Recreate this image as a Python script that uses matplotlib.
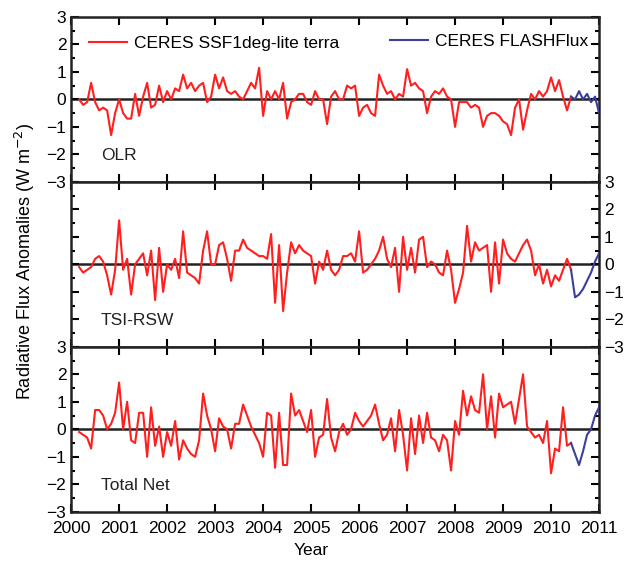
import numpy as np
import matplotlib
matplotlib.use('Agg')
import matplotlib.pyplot as plt
from matplotlib.ticker import MultipleLocator

plt.rcParams['font.family'] = ['Liberation Sans', 'DejaVu Sans']

# monthly anomalies (W m-2), CERES SSF1deg-lite terra, Mar 2000 - Jun 2010
olr = [
    0.0, -0.2, -0.1, 0.6, -0.1, -0.4, -0.3, -0.4, -1.3, -0.5,                  # 2000
    0.0, -0.5, -0.7, -0.7, 0.2, -0.6, 0.1, 0.6, -0.3, -0.2, 0.5, -0.1,        # 2001
    0.3, 0.0, 0.4, 0.3, 0.9, 0.4, 0.6, 0.3, 0.5, 0.6, -0.1, 0.1,              # 2002
    0.9, 0.4, 0.8, 0.3, 0.2, 0.3, 0.1, 0.0, 0.3, 0.6, 0.4, 1.15,              # 2003
    -0.6, 0.3, 0.0, 0.3, 0.0, 0.6, -0.7, -0.1, 0.0, 0.2, 0.2, -0.1,           # 2004
    -0.2, 0.3, 0.0, 0.0, -0.9, 0.1, 0.3, 0.0, 0.0, 0.5, 0.4, 0.5,             # 2005
    -0.6, -0.3, -0.2, -0.5, -0.6, 0.9, 0.5, 0.2, 0.3, 0.0, 0.2, 0.1,          # 2006
    1.1, 0.5, 0.6, 0.4, 0.3, -0.5, 0.1, 0.3, 0.2, 0.4, 0.1, 0.0,              # 2007
    -1.0, -0.1, -0.1, -0.1, -0.3, -0.2, -0.3, -1.0, -0.6, -0.5, -0.5, -0.6,   # 2008
    -0.8, -0.9, -1.3, -0.3, 0.0, -1.1, -0.4, 0.2, 0.0, 0.3, 0.1, 0.3,         # 2009
    0.8, 0.3, 0.7, 0.1, -0.4, 0.1,                                            # 2010
]
tsi_rsw = [
    -0.1, -0.3, -0.2, -0.1, 0.2, 0.3, 0.1, -0.4, -1.1, -0.2,
    1.6, -0.2, 0.2, -1.1, 0.0, 0.2, 0.4, -0.4, 0.5, -1.3, 0.6, -1.0,
    0.0, -0.2, 0.2, -0.5, 1.2, -0.3, -0.4, -0.5, -0.7, 0.5, 1.2, 0.0,
    0.0, 0.7, 0.8, 0.2, -0.6, 0.5, 0.5, 0.9, 0.6, 0.5, 0.4, 0.3,
    0.3, 0.2, 1.1, -1.4, 0.7, -1.7, -0.3, 0.8, 0.4, 0.7, 0.5, 0.4,
    0.3, -0.7, 0.1, -0.2, 0.5, -0.2, -0.4, -0.2, 0.3, 0.3, 0.4, 0.1,
    1.2, -0.3, -0.2, 0.0, 0.2, 0.5, 1.0, 0.2, -0.1, 0.6, -1.0, 1.0,
    -0.2, 0.6, -0.3, 0.9, 1.0, -0.1, 0.1, 0.0, -0.3, -0.4, 0.5, -0.2,
    -1.4, -0.9, -0.3, 1.4, 0.1, 0.8, 0.5, 0.6, 0.7, -1.0, 0.8, -0.7,
    0.9, 0.4, 0.2, 0.1, 0.4, 0.7, 0.9, 0.5, -0.4, 0.0, -0.7, -0.2,
    -0.8, -0.4, -0.6, -0.2, 0.2, -0.2,
]
total_net = [
    -0.1, -0.2, -0.3, -0.7, 0.7, 0.7, 0.5, 0.0, 0.2, 0.6,
    1.7, 0.0, 1.0, -0.4, -0.5, 0.6, 0.6, -1.0, 0.8, -0.6, 0.1, -1.0,
    -0.1, -0.6, 0.3, -1.1, -0.4, -0.7, -0.9, -1.0, -0.4, 1.3, 0.5, 0.0,
    -0.8, 0.4, 0.1, 0.0, -0.7, 0.2, 0.2, 0.9, 0.5, 0.1, -0.2, -0.5,
    -1.0, 0.6, 0.5, -1.4, 0.6, -1.3, -1.3, 1.3, 0.5, 0.7, 0.3, -0.1,
    0.7, -1.0, -0.3, -0.2, 1.1, -0.3, -0.8, -0.1, 0.2, -0.2, 0.0, 0.6,
    0.3, 0.1, 0.3, 0.5, 0.9, 0.2, -0.4, -0.2, 0.4, -0.8, 0.7, -0.2,
    -1.5, 0.4, -0.9, 0.5, -0.5, 0.6, -0.3, -0.4, -0.8, -0.2, -0.4, -1.5,
    0.3, -0.2, 1.4, 0.5, 1.2, 0.7, 0.6, 2.0, 0.0, 1.2, -0.3, 1.3,
    0.8, 0.9, 1.0, 0.2, 1.1, 2.0, 0.1, -0.1, -0.3, -0.2, -0.5, 0.3,
    -1.6, -0.7, -0.8, 0.8, -0.6, -0.5,
]

# CERES FLASHFlux, Jun 2010 - Jan 2011
olr_ff = [0.1, 0.0, 0.3, 0.0, 0.2, -0.1, 0.1, -0.5]
tsi_rsw_ff = [-0.2, -1.2, -1.1, -0.9, -0.6, -0.3, 0.1, 0.4]
total_net_ff = [-0.5, -0.9, -1.3, -0.8, -0.2, 0.0, 0.5, 0.8]

panel_names = ['OLR', 'TSI-RSW', 'Total Net']
years = list(range(2000, 2012))

t_ssf = 2000 + (2 + np.arange(len(olr))) / 12.
t_ff = 2010 + (5 + np.arange(len(olr_ff))) / 12.

red = '#ff1f1f'
navy = '#3b3f9a'
fs = 12.5

fig = plt.figure(figsize=(6.24, 5.63), dpi=100)
gs = fig.add_gridspec(3, 1, left=0.114, right=0.96, top=0.970, bottom=0.091, hspace=0)
axes = [fig.add_subplot(gs[i]) for i in range(3)]

series = [(olr, olr_ff), (tsi_rsw, tsi_rsw_ff), (total_net, total_net_ff)]
for i, ax in enumerate(axes):
    ssf, ff = series[i]
    ax.axhline(0, color='#222222', lw=1.8, zorder=1)
    l1, = ax.plot(t_ssf[:len(ssf)], ssf, color=red, lw=1.5, zorder=3)
    l2, = ax.plot(t_ff, ff, color=navy, lw=1.5, zorder=3)
    ax.set_xlim(2000, 2011)
    ax.set_ylim(-3, 3)
    ax.set_xticks(years)
    ax.yaxis.set_major_locator(MultipleLocator(1))
    ax.yaxis.set_minor_locator(MultipleLocator(0.5))
    ax.tick_params(which='both', direction='in', top=True, right=True, width=1.5, labelsize=fs)
    ax.tick_params(which='major', length=6)
    ax.tick_params(which='minor', length=3)
    ax.tick_params(axis='x', pad=7)
    for s in ax.spines.values():
        s.set_linewidth(1.8)
        s.set_color('#222222')
    if i < 2:
        ax.tick_params(labelbottom=False)
    if i == 1:
        ax.tick_params(labelleft=False, labelright=True)
    ax.text(2000.62, -2.05, panel_names[i], fontsize=fs, va='center', ha='left', color='#222222')
    if i == 0:
        lg1 = ax.legend([l1], ['CERES SSF1deg-lite terra'], loc='upper left', bbox_to_anchor=(0.01, 0.96),
                        frameon=False, fontsize=fs, handlelength=2.2, handletextpad=0.4, borderaxespad=0.3)
        ax.add_artist(lg1)
        ax.legend([l2], ['CERES FLASHFlux'], loc='upper right', bbox_to_anchor=(1.0, 0.96),
                  frameon=False, fontsize=fs, handlelength=2.2, handletextpad=0.4, borderaxespad=0.2)

axes[2].set_xlabel('Year', fontsize=fs, labelpad=8)
axes[2].xaxis.set_label_coords(0.455, -0.19)
fig.text(0.04, 0.535, 'Radiative Flux Anomalies (W m$^{-2}$)', rotation=90, va='center', ha='center', fontsize=13)

fig.savefig('out.png', dpi=100)
